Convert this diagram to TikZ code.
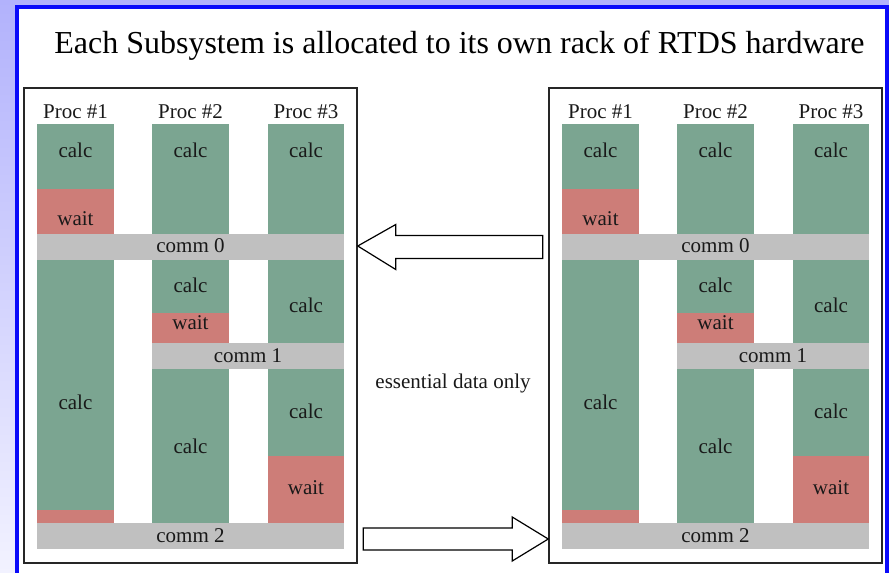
\documentclass[tikz,border=0pt]{standalone}
\usepackage{fontspec}
\setmainfont{Liberation Serif}
\usetikzlibrary{calc}
\definecolor{bgtop}     {RGB}{178, 178, 252}
\definecolor{bgbot}     {RGB}{242, 242, 255}
\definecolor{framecolor}{RGB}{ 10,  10, 250}
\definecolor{calccolor} {RGB}{123, 165, 145}
\definecolor{waitcolor} {RGB}{205, 125, 120}
\definecolor{commcolor} {RGB}{192, 192, 192}
\tikzset{
	rackbox/.style={
		rectangle, draw=black!85, line width=1.5pt, fill=white,
		minimum width=333pt, minimum height=475pt, inner sep=0pt
	},
	calcfill/.style={fill=calccolor},
	waitfill/.style={fill=waitcolor},
	commfill/.style={fill=commcolor},
	lbl/.style={
		font=\fontsize{21}{24}\selectfont, inner sep=0pt, text=black!90
	},
	titletext/.style={
		font=\fontsize{32}{38}\selectfont, inner sep=0pt
	},
	blockarrow/.style={
		draw=black, line width=1.2pt, fill=white, line join=miter
	}
}

\begin{document}
\begin{tikzpicture}[x=1pt, y=-1pt]
		\clip (0,0) rectangle (889,573);
		
		%% ═══════════════════════════════
		%%  Background and blue frame
		%% ═══════════════════════════════
		\shade[top color=bgtop, bottom color=bgbot] (0,0) rectangle (889,573);
		\draw[framecolor, line width=4pt, fill=white] (17,7) rectangle (887,600);
		
		\node[titletext, anchor=base] (title) at (459.5,53)
		{Each Subsystem is allocated to its own rack of RTDS hardware};
		
		%% ═══════════════════════════════
		%%  Two racks (left at 0, right shifted by 525)
		%% ═══════════════════════════════
		\foreach \dx/\nm in {0/L, 525/R} {
			\node[rackbox] (rack\nm) at (190.5+\dx,325.5) {};
			\begin{scope}[xshift=\dx pt]
				% Proc #1
				\fill[calcfill] (37,124) rectangle (114,189);
				\fill[waitfill] (37,189) rectangle (114,234);
				\fill[calcfill] (37,260) rectangle (114,510);
				\fill[waitfill] (37,510) rectangle (114,523);
				% Proc #2
				\fill[calcfill] (152,124) rectangle (229,234);
				\fill[calcfill] (152,260) rectangle (229,313);
				\fill[waitfill] (152,313) rectangle (229,343);
				\fill[calcfill] (152,369) rectangle (229,523);
				% Proc #3
				\fill[calcfill] (268,124) rectangle (344,234);
				\fill[calcfill] (268,260) rectangle (344,343);
				\fill[calcfill] (268,369) rectangle (344,456);
				\fill[waitfill] (268,456) rectangle (344,523);
				% comm bars
				\fill[commfill] (37,234) rectangle (344,260);
				\fill[commfill] (152,343) rectangle (344,369);
				\fill[commfill] (37,523) rectangle (344,549);
				
				\node[lbl] (procA\nm) at (75.5,112) {Proc \#1};
				\node[lbl] (procB\nm) at (190.5,112) {Proc \#2};
				\node[lbl] (procC\nm) at (306,112) {Proc \#3};
				
				\node[lbl] (calcA1\nm) at (75.5,150) {calc};
				\node[lbl] (waitA1\nm) at (75.5,219) {wait};
				\node[lbl] (calcA2\nm) at (75.5,402) {calc};
				
				\node[lbl] (calcB1\nm) at (190.5,150) {calc};
				\node[lbl] (calcB2\nm) at (190.5,285) {calc};
				\node[lbl] (waitB1\nm) at (190.5,323) {wait};
				\node[lbl] (calcB3\nm) at (190.5,446) {calc};
				
				\node[lbl] (calcC1\nm) at (306,150) {calc};
				\node[lbl] (calcC2\nm) at (306,305) {calc};
				\node[lbl] (calcC3\nm) at (306,411) {calc};
				\node[lbl] (waitC1\nm) at (306,488) {wait};
				
				\node[lbl] (comm0\nm) at (190.5,246) {comm 0};
				\node[lbl] (comm1\nm) at (248,356) {comm 1};
				\node[lbl] (comm2\nm) at (190.5,536) {comm 2};
			\end{scope}
		}
		
		%% ═══════════════════════════════
		%%  Data exchange between racks
		%% ═══════════════════════════════
		\node[lbl] (essential) at (453,383) {essential data only};
		
		% right rack → left rack (at comm 0)
		\draw[blockarrow] (rackL.east |- comm0L) -- ++(38,-21.5) -- ++(0,11)
		-- ++(147,0) -- ++(0,23) -- ++(-147,0) -- ++(0,11) -- cycle;
		
		% left rack → right rack (at comm 2)
		\draw[blockarrow] ($(rackR.west |- comm2R)+(0,3)$) -- ++(-36,-22) -- ++(0,11)
		-- ++(-149,0) -- ++(0,22) -- ++(149,0) -- ++(0,11) -- cycle;
		
\end{tikzpicture}
\end{document}
